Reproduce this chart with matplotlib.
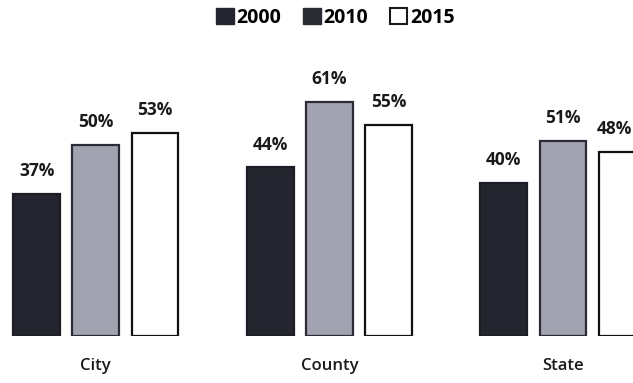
import numpy as np
import matplotlib
matplotlib.use("Agg")
from matplotlib import pyplot as plt
from matplotlib.patches import Patch

categories = ["City", "County", "State"]
years = ["2000", "2010", "2015"]
v2000 = [37, 44, 40]
v2010 = [50, 61, 51]
v2015 = [53, 55, 48]

colors = ["#25252f", "#a3a2b0", "#ffffff"]
edges = ["#1c1c24", "#2b2b38", "#111111"]

plt.rcParams['font.family'] = ['Open Sans', 'DejaVu Sans']

fig = plt.figure(figsize=(6.33, 3.83), dpi=100)
ax = fig.add_axes([0, 0.1227, 1, 0.700])

x = np.arange(len(categories))
width = 0.2
step = 0.253
series = [v2000, v2010, v2015]
labels = []
for i, vals in enumerate(series):
    pos = x + (i - 1) * step
    bars = ax.bar(pos, vals, width, color=colors[i], edgecolor=edges[i],
                  linewidth=1.6, label=years[i])
    for b, v in zip(bars, vals):
        t = ax.annotate(f"{v}%", (b.get_x() + b.get_width() / 2, v),
                        xytext=(0, 10), textcoords="offset points",
                        ha="center", va="bottom", fontsize=12.5,
                        fontweight="bold", color="#1a1a1a", annotation_clip=False)
        labels.append(t)

ax.set_xlim(-0.41, 2.30)
ax.set_ylim(0, 70)
ax.set_xticks(x)
ax.set_xticklabels(categories, fontsize=12, fontweight="semibold", color="#1a1a1a")
ax.tick_params(axis="x", length=0, pad=16)
ax.set_yticks([])
for s in ax.spines.values():
    s.set_visible(False)

handles = [Patch(facecolor="#25252f", edgecolor="#25252f"),
           Patch(facecolor="#2a2a33", edgecolor="#2a2a33"),
           Patch(facecolor="#ffffff", edgecolor="#1a1a1a", linewidth=1.5)]
fig.legend(handles, years, loc="center", bbox_to_anchor=(0.53, 0.953), ncol=3,
           frameon=False, handlelength=0.9, handleheight=0.9,
           handletextpad=0.15, columnspacing=1.1,
           prop={"weight": "bold", "size": 14})

# keep labels near the right edge inside the figure
fig.canvas.draw()
r = fig.canvas.get_renderer()
W = fig.bbox.width
for t in labels:
    bb = t.get_window_extent(r)
    if bb.x1 > W - 1:
        dx = (bb.x1 - (W - 1)) * 72 / fig.dpi
        t.set_position((-dx, 10))

fig.savefig("out.png", dpi=100)
